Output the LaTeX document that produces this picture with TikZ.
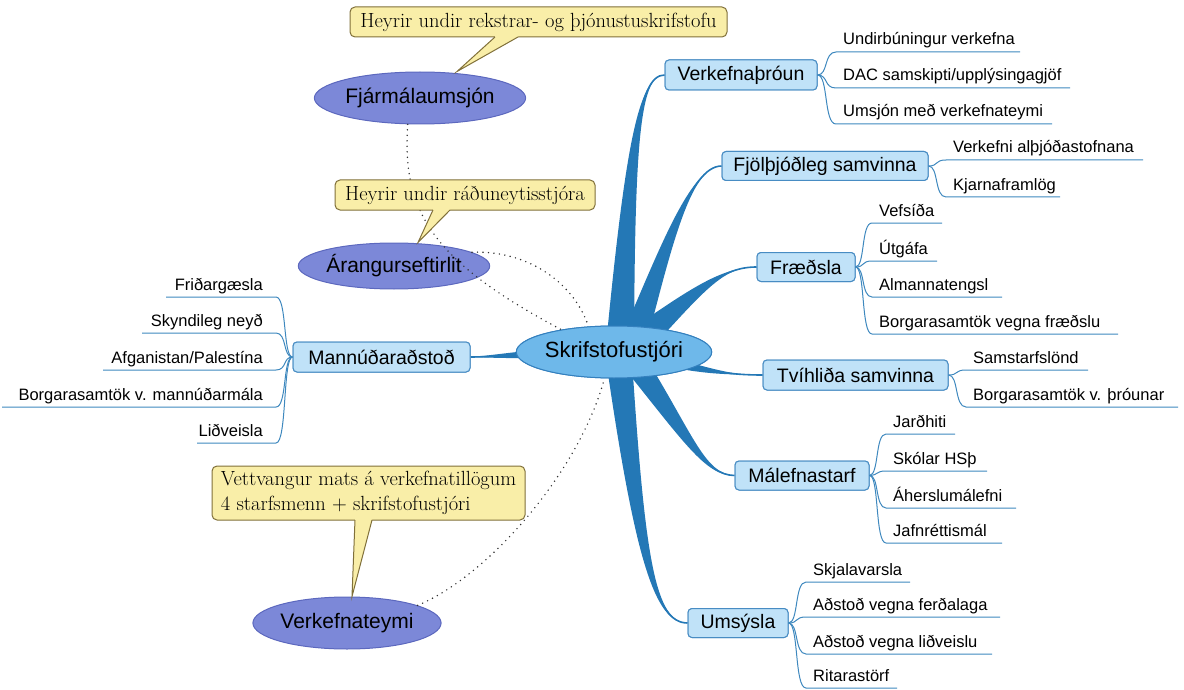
\documentclass[tikz,border=0pt]{standalone}
\usepackage{fontspec}
\newfontfamily\sansf{Liberation Sans}
\usetikzlibrary{shapes.geometric,calc}
\definecolor{branch}{RGB}{36,120,182}
\definecolor{boxfill}{RGB}{192,226,248}
\definecolor{boxline}{RGB}{72,140,195}
\definecolor{kidcol}{RGB}{62,136,190}
\definecolor{cfill}{RGB}{110,184,234}
\definecolor{cline}{RGB}{52,128,190}
\definecolor{pfill}{RGB}{124,136,216}
\definecolor{pline}{RGB}{92,104,190}
\definecolor{yfill}{RGB}{249,238,168}
\definecolor{yline}{RGB}{128,112,58}
\definecolor{dotcol}{RGB}{50,50,50}
% right-side child: #1 parent anchor, #2 px, #3 py, #4 x0, #5 y, #6 xend, #7 name, #8 text
\newcommand\kid[8]{%
  \draw[kidline] (#1) .. controls ({#2+0.6*(#4-#2)},#3) and ({#2+0.35*(#4-#2)},#5) .. (#4,#5) -- (#6,#5);
  \node[kidtext,anchor=base west] (#7) at (#4+7,#5-7) {#8};}
% left-side child: #6 is the left start of the line
\newcommand\lkid[8]{%
  \draw[kidline] (#1) .. controls ({#2+0.6*(#4-#2)},#3) and ({#2+0.35*(#4-#2)},#5) .. (#4,#5) -- (#6,#5);
  \node[kidtext,anchor=base east] (#7) at (#4-13,#5-7) {#8};}
\begin{document}
\begin{tikzpicture}[x=1pt,y=-1pt,
 topic/.style={draw=boxline,fill=boxfill,line width=1pt,rounded corners=4pt,inner sep=0pt,font=\sansf\fontsize{19.5}{22}\selectfont,text=black},
 kidtext/.style={inner sep=0pt,font=\sansf\fontsize{16.5}{19}\selectfont},
 kidline/.style={draw=kidcol,line width=1pt},
 hub/.style={ellipse,draw=cline,fill=cfill,line width=1pt,inner sep=0pt,font=\sansf\fontsize{22}{26}\selectfont},
 side/.style={ellipse,draw=pline,fill=pfill,line width=1pt,inner sep=0pt,font=\sansf\fontsize{21}{24}\selectfont},
 note/.style={draw=yline,fill=yfill,line width=1pt,rounded corners=5pt,inner sep=0pt,font=\fontsize{20.5}{25}\selectfont},
 dots/.style={draw=dotcol,line width=1.6pt,dash pattern=on 0pt off 5.5pt,line cap=round},
 ptr/.style={draw=yline,line width=1pt,line join=miter},
]
\useasboundingbox (0,0) rectangle (1184,690);

% ---- nodes (positions) ----
\path
  (614,352) node[hub,minimum width=176pt,minimum height=52pt] (sk) {Skrifstofustjóri}
  (420,98)  node[side,minimum width=184pt,minimum height=52pt] (fj) {Fjármálaumsjón}
  (394,266) node[side,minimum width=164pt,minimum height=46pt] (ar) {Árangurseftirlit}
  (347,623) node[side,minimum width=168pt,minimum height=52pt] (vt) {Verkefnateymi};

% ---- dotted relations ----
\draw[dots] (fj.-115) .. controls (402,210) and (430,260) .. (sk.157);
\draw[dots] (ar.10) .. controls (530,250) and (575,285) .. (sk.135);
\draw[dots] (vt.14) .. controls (490,575) and (580,470) .. (sk.-110);

% ---- topic boxes (defined before branches, drawn again later) ----
\path
  (741,75)    node[topic,minimum width=152pt,minimum height=30pt] (vp) {Verkefnaþróun}
  (825,166)   node[topic,minimum width=206pt,minimum height=29pt] (fs) {Fjölþjóðleg samvinna}
  (806,267)   node[topic,minimum width=98pt,minimum height=29pt] (fr) {Fræðsla}
  (855.5,375) node[topic,minimum width=185pt,minimum height=30pt] (tv) {Tvíhliða samvinna}
  (802,475.5) node[topic,minimum width=134pt,minimum height=29pt] (ms) {Málefnastarf}
  (738,623)   node[topic,minimum width=100pt,minimum height=29pt] (um) {Umsýsla}
  (381.5,357) node[topic,minimum width=177pt,minimum height=30pt] (ma) {Mannúðaraðstoð};

% ---- tapered branches ----
\fill[branch] (606,345) .. controls (625,150) and (638,76) .. (vp.west) .. controls (639,74) and (635,152) .. (634,345) -- cycle;
\draw[branch,line width=1.6pt] (620,345) .. controls (630,150) and (638,75) .. (vp.west);
\fill[branch] (618,345) .. controls (660,248) and (690,167) .. (fs.west) .. controls (690,165) and (670,254) .. (646,345) -- cycle;
\draw[branch,line width=1.6pt] (632,345) .. controls (665,251) and (690,166) .. (fs.west);
\fill[branch] (622,336) .. controls (696,284) and (722,268) .. (fr.west) .. controls (722,266) and (702,294) .. (644,356) -- cycle;
\draw[branch,line width=1.6pt] (633,346) .. controls (699,289) and (722,267) .. (fr.west);
\fill[branch] (670,357) .. controls (715,370) and (738,376) .. (tv.west) .. controls (738,374) and (715,376) .. (670,367) -- cycle;
\draw[branch,line width=1.6pt] (670,362) .. controls (715,373) and (738,375) .. (tv.west);
\fill[branch] (616,358) .. controls (684,442) and (705,476) .. (ms.west) .. controls (705,474) and (694,436) .. (646,358) -- cycle;
\draw[branch,line width=1.6pt] (631,358) .. controls (689,439) and (705,475) .. (ms.west);
\fill[branch] (606,360) .. controls (635,560) and (655,624) .. (um.west) .. controls (655,622) and (645,558) .. (632,360) -- cycle;
\draw[branch,line width=1.6pt] (619,360) .. controls (640,559) and (655,623) .. (um.west);
\fill[branch] (600,345) .. controls (520,350) and (490,356) .. (ma.east) .. controls (490,358) and (520,358) .. (600,360) -- cycle;
\draw[branch,line width=1.6pt] (600,352) .. controls (520,354) and (490,357) .. (ma.east);

% ---- redraw nodes on top ----
\path
  (614,352) node[hub,minimum width=176pt,minimum height=52pt] {Skrifstofustjóri}
  (741,75)    node[topic,minimum width=152pt,minimum height=30pt] {Verkefnaþróun}
  (825,166)   node[topic,minimum width=206pt,minimum height=29pt] {Fjölþjóðleg samvinna}
  (806,267)   node[topic,minimum width=98pt,minimum height=29pt] {Fræðsla}
  (855.5,375) node[topic,minimum width=185pt,minimum height=30pt] {Tvíhliða samvinna}
  (802,475.5) node[topic,minimum width=134pt,minimum height=29pt] {Málefnastarf}
  (738,623)   node[topic,minimum width=100pt,minimum height=29pt] {Umsýsla}
  (381.5,357) node[topic,minimum width=177pt,minimum height=30pt] {Mannúðaraðstoð};

% ---- children ----
\kid{vp.east}{817}{75}{836}{52}{1020}{vp1}{Undirbúningur verkefna}
\kid{vp.east}{817}{75}{836}{88}{1070}{vp2}{DAC samskipti/upplýsingagjöf}
\kid{vp.east}{817}{75}{836}{124}{1052}{vp3}{Umsjón með verkefnateymi}
\kid{fs.east}{928}{166}{946}{160}{1143}{fs1}{Verkefni alþjóðastofnana}
\kid{fs.east}{928}{166}{946}{197}{1060}{fs2}{Kjarnaframlög}
\kid{fr.east}{855}{267}{872}{223}{942}{fr1}{Vefsíða}
\kid{fr.east}{855}{267}{872}{261}{937}{fr2}{Útgáfa}
\kid{fr.east}{855}{267}{872}{297}{1002}{fr3}{Almannatengsl}
\kid{fr.east}{855}{267}{872}{334}{1118}{fr4}{Borgarasamtök vegna fræðslu}
\kid{tv.east}{948}{375}{966}{370}{1088}{tv1}{Samstarfslönd}
\kid{tv.east}{948}{375}{966}{407}{1178}{tv2}{Borgarasamtök v. þróunar}
\kid{ms.east}{869}{475}{886}{434}{955}{ms1}{Jarðhiti}
\kid{ms.east}{869}{475}{886}{471}{987}{ms2}{Skólar HSþ}
\kid{ms.east}{869}{475}{886}{508}{1016}{ms3}{Áherslumálefni}
\kid{ms.east}{869}{475}{886}{543}{1002}{ms4}{Jafnréttismál}
\kid{um.east}{788}{623}{806}{582}{910}{um1}{Skjalavarsla}
\kid{um.east}{788}{623}{806}{617}{1000}{um2}{Aðstoð vegna ferðalaga}
\kid{um.east}{788}{623}{806}{654}{992}{um3}{Aðstoð vegna liðveislu}
\kid{um.east}{788}{623}{806}{688}{897}{um4}{Ritarastörf}
\lkid{ma.west}{293}{357}{276}{297}{166}{ma1}{Friðargæsla}
\lkid{ma.west}{293}{357}{276}{333}{142}{ma2}{Skyndileg neyð}
\lkid{ma.west}{293}{357}{276}{370}{103}{ma3}{Afganistan/Palestína}
\lkid{ma.west}{293}{357}{276}{407}{2}{ma4}{Borgarasamtök v. mannúðarmála}
\lkid{ma.west}{293}{357}{276}{443}{197}{ma5}{Liðveisla}

% ---- callouts ----
\node[note,minimum width=377pt,minimum height=30pt] (n1) at (538.5,22) {Heyrir undir rekstrar- og þjónustuskrifstofu};
\fill[yfill] (495,35.5) -- (495,37) -- (fj.north -| 457,0) -- (518,37) -- (518,35.5) -- cycle;
\draw[ptr] (495,37) -- (fj.north -| 457,0) -- (518,37);

\node[note,minimum width=260pt,minimum height=30pt] (n2) at (465,195) {Heyrir undir ráðuneytisstjóra};
\fill[yfill] (433,208.5) -- (433,210) -- (ar.north -| 418,0) -- (450,210) -- (450,208.5) -- cycle;
\draw[ptr] (433,210) -- (ar.north -| 418,0) -- (450,210);

\node[note,minimum width=313pt,minimum height=54pt,align=left] (n3) at (368.5,493) {Vettvangur mats á verkefnatillögum\\4 starfsmenn + skrifstofustjóri};
\fill[yfill] (355,518.5) -- (355,520) -- (vt.north -| 352,0) -- (372,520) -- (372,518.5) -- cycle;
\draw[ptr] (355,520) -- (vt.north -| 352,0) -- (372,520);
\end{tikzpicture}
\end{document}
